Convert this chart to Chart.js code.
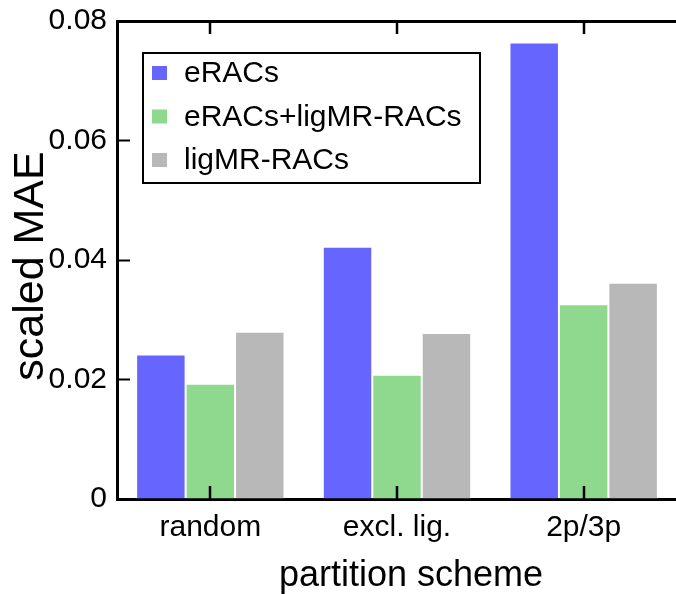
<!DOCTYPE html>
<html>
<head>
<meta charset="utf-8">
<script src="https://cdn.jsdelivr.net/npm/chart.js@4/dist/chart.umd.min.js"></script>
<style>
  html, body { margin: 0; padding: 0; background: #fff; overflow: hidden; }
  canvas { display: block; }
</style>
</head>
<body>
<canvas id="maeChart" width="680" height="594"></canvas>
<script>
// partition schemes and scaled MAE per feature set
const schemes = ['random', 'excl. lig.', '2p/3p'];
const seriesNames = ['eRACs', 'eRACs+ligMR-RACs', 'ligMR-RACs'];
const eRACs = [0.0242, 0.0422, 0.0764];
const eRACsLigMR = [0.0193, 0.0208, 0.0326];
const ligMR = [0.0280, 0.0278, 0.0362];
const yTicks = [0, 0.02, 0.04, 0.06, 0.08];

const colors = ['#6666ff', '#8fd98f', '#b8b8b8'];
const FONT = '"Liberation Sans", Arial, Helvetica, sans-serif';

// legend box in the upper left of the plot
const boxLegend = {
  id: 'boxLegend',
  afterDraw(chart) {
    const ctx = chart.ctx;
    ctx.save();
    ctx.lineWidth = 2;
    ctx.strokeStyle = '#000';
    ctx.fillStyle = '#fff';
    ctx.fillRect(143, 53, 337, 130);
    ctx.strokeRect(143, 53, 337, 130);
    ctx.font = '30px ' + FONT;
    ctx.textBaseline = 'middle';
    const rows = [73, 116.5, 160];
    chart.data.datasets.forEach((ds, i) => {
      ctx.fillStyle = ds.backgroundColor;
      ctx.fillRect(152, rows[i] - 7, 15, 14);
      ctx.fillStyle = '#000';
      ctx.fillText(ds.label, 184, rows[i] + 1);
    });
    ctx.restore();
  }
};

// inward category ticks on the top and bottom frame lines, over the bars
const catTicks = {
  id: 'catTicks',
  afterDatasetsDraw(chart) {
    const ctx = chart.ctx;
    const xs = chart.scales.x;
    const ys = chart.scales.y;
    const yTop = ys.getPixelForValue(yTicks[yTicks.length - 1]);
    const yBot = ys.getPixelForValue(0);
    ctx.save();
    ctx.fillStyle = '#000';
    schemes.forEach((s, i) => {
      const px = Math.round(xs.getPixelForValue(i));
      ctx.fillRect(px - 1.25, yTop, 2.5, 13);
      ctx.fillRect(px - 1.25, yBot - 13, 2.5, 13);
    });
    ctx.restore();
  }
};

// axis titles
const axisTitles = {
  id: 'axisTitles',
  afterDraw(chart) {
    const ctx = chart.ctx;
    ctx.save();
    ctx.fillStyle = '#000';
    ctx.textAlign = 'center';
    ctx.textBaseline = 'middle';
    ctx.font = '36px ' + FONT;
    ctx.fillText('partition scheme', 411, 576);
    ctx.translate(31, 266);
    ctx.rotate(-Math.PI / 2);
    ctx.font = '43px ' + FONT;
    ctx.fillText('scaled MAE', 0, 0);
    ctx.restore();
  }
};

const data = {
  labels: schemes,
  datasets: [eRACs, eRACsLigMR, ligMR].map((vals, i) => ({
    label: seriesNames[i],
    data: vals,
    backgroundColor: colors[i],
    borderColor: 'rgba(255,255,255,0.55)',
    borderWidth: 1,
    categoryPercentage: 0.795,
    barPercentage: 1.0
  }))
};

const maeChart = new Chart(document.getElementById('maeChart'), {
  type: 'bar',
  data,
  options: {
    responsive: false,
    animation: false,
    devicePixelRatio: 1,
    layout: { padding: { top: 21, right: 3, left: 0, bottom: 0 } },
    plugins: {
      legend: { display: false },
      tooltip: { enabled: false }
    },
    scales: {
      x: {
        position: 'bottom',
        offset: true,
        grid: { offset: false, drawOnChartArea: false, tickLength: -13, tickWidth: 2, color: '#000' },
        border: { color: '#000', width: 3 },
        ticks: { color: '#000', font: { family: FONT, size: 30 }, padding: 24, maxRotation: 0 },
        afterFit(scale) {
          scale.height = 95;
          scale.paddingLeft = 0;
          scale.paddingRight = 0;
        }
      },
      xTop: {
        type: 'category',
        position: 'top',
        offset: true,
        grid: { display: false },
        border: { color: '#000', width: 3 },
        ticks: { display: false },
        afterFit(scale) { scale.height = 0; }
      },
      y: {
        min: 0,
        max: 0.08,
        afterBuildTicks(scale) { scale.ticks = yTicks.map(v => ({ value: v })); },
        grid: { drawOnChartArea: false, tickLength: -13, tickWidth: 2, color: '#000' },
        border: { color: '#000', width: 3 },
        ticks: {
          color: '#000',
          font: { family: FONT, size: 30 },
          padding: 23,
          callback: v => v === 0 ? '0' : v.toFixed(2)
        },
        afterFit(scale) {
          scale.width = 117;
          scale.paddingTop = 0;
          scale.paddingBottom = 0;
        }
      }
    }
  },
  plugins: [boxLegend, catTicks, axisTitles]
});
</script>
</body>
</html>
